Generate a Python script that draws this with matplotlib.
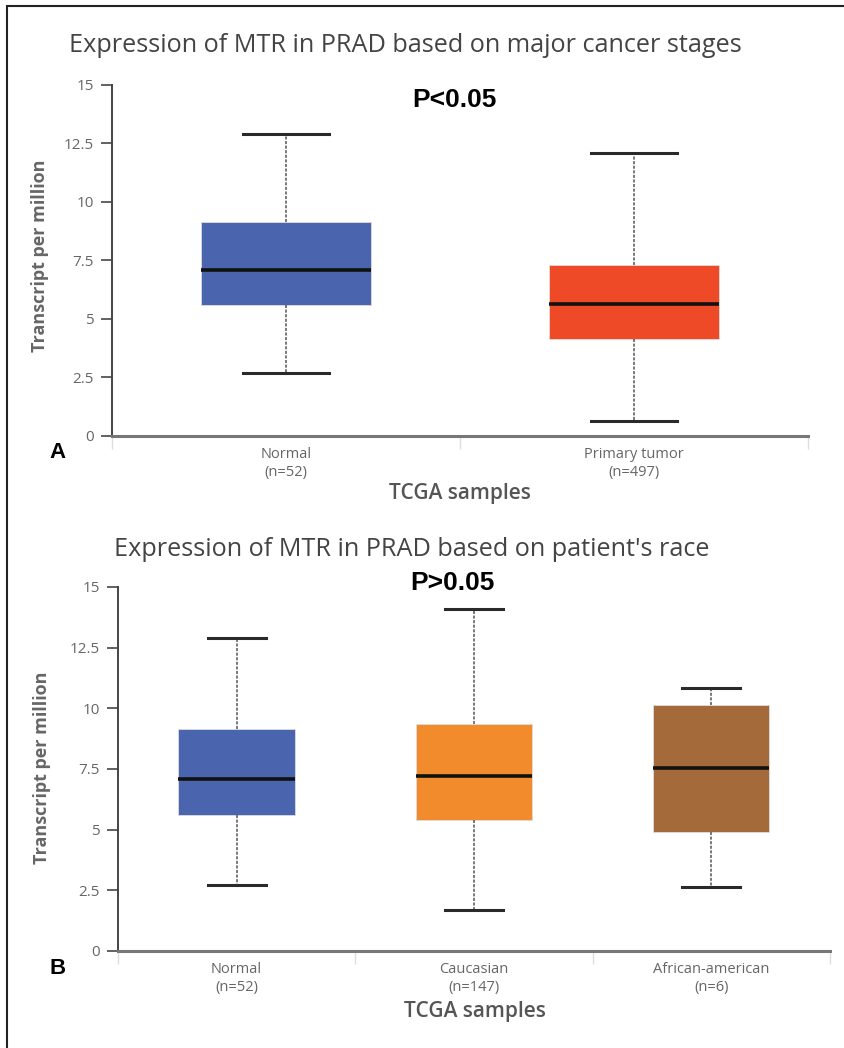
import matplotlib.pyplot as plt
from matplotlib.patches import Rectangle

plt.rcParams['font.family'] = ['Open Sans', 'DejaVu Sans']

# panel A: major cancer stages
a_labels = ["Normal\n(n=52)", "Primary tumor\n(n=497)"]
a_colors = ["#4a64ae", "#ee4a28"]
a_whislo = [2.7, 0.65]
a_q1 = [5.6, 4.15]
a_med = [7.1, 5.65]
a_q3 = [9.15, 7.3]
a_whishi = [12.9, 12.1]

# panel B: patient's race
b_labels = ["Normal\n(n=52)", "Caucasian\n(n=147)", "African-american\n(n=6)"]
b_colors = ["#4a64ae", "#f28b2c", "#a46a3a"]
b_whislo = [2.7, 1.7, 2.65]
b_q1 = [5.6, 5.4, 4.9]
b_med = [7.1, 7.2, 7.55]
b_q3 = [9.15, 9.35, 10.15]
b_whishi = [12.9, 14.1, 10.85]

yticks = [0, 2.5, 5, 7.5, 10, 12.5, 15]
ytick_labels = ["0", "2.5", "5", "7.5", "10", "12.5", "15"]

fig = plt.figure(figsize=(8.45, 10.48), dpi=100)


def draw_panel(ax, labels, colors, lo, q1, med, q3, hi):
    stats = []
    for i in range(len(labels)):
        stats.append({"whislo": lo[i], "q1": q1[i], "med": med[i],
                      "q3": q3[i], "whishi": hi[i], "fliers": []})
    bp = ax.bxp(stats, positions=range(1, len(labels) + 1), widths=0.49,
                capwidths=0.245, patch_artist=True, showfliers=False,
                boxprops=dict(linewidth=0.6, edgecolor="#dddddd"),
                whiskerprops=dict(linestyle=(0, (2, 1)), linewidth=1.1, color="#555555"),
                capprops=dict(linewidth=2.2, color="#2a2a2a"),
                medianprops=dict(linewidth=2.6, color="#111111"))
    for patch, c in zip(bp["boxes"], colors):
        patch.set_facecolor(c)
    n = len(labels)
    ax.set_xlim(0.5, n + 0.5)
    ax.set_ylim(0, 15)
    ax.set_yticks(yticks)
    ax.set_yticklabels(ytick_labels)
    ax.set_xticks(range(1, n + 1))
    ax.set_xticklabels(labels, color="#666666", fontsize=10.5, linespacing=1.3)
    ax.set_xticks([i + 0.5 for i in range(n + 1)], minor=True)
    ax.tick_params(axis="x", which="major", length=0, pad=8)
    ax.tick_params(axis="x", which="minor", length=9, color="#dddddd", width=1)
    ax.tick_params(axis="y", length=8, width=1.3, color="#555555",
                   labelcolor="#666666", labelsize=11, pad=5)
    for s in ["top", "right"]:
        ax.spines[s].set_visible(False)
    ax.spines["left"].set_color("#444444")
    ax.spines["left"].set_linewidth(1.4)
    ax.spines["bottom"].set_color("#777777")
    ax.spines["bottom"].set_linewidth(2.2)


ax1 = fig.add_axes([0.1325, 0.584, 0.8237, 0.335])
draw_panel(ax1, a_labels, a_colors, a_whislo, a_q1, a_med, a_q3, a_whishi)
ax2 = fig.add_axes([0.1396, 0.0926, 0.8426, 0.3473])
draw_panel(ax2, b_labels, b_colors, b_whislo, b_q1, b_med, b_q3, b_whishi)

# titles and texts
fig.text(405 / 845, 1 - 45 / 1048, "Expression of MTR in PRAD based on major cancer stages",
         ha="center", va="center", fontsize=18.2, color="#444444")
fig.text(412 / 845, 1 - 550 / 1048, "Expression of MTR in PRAD based on patient's race",
         ha="center", va="center", fontsize=18.2, color="#444444")
fig.text(454 / 845, 1 - 100 / 1048, "P<0.05", ha="center", va="center",
         fontsize=19, fontweight="bold", family="Liberation Sans")
fig.text(452 / 845, 1 - 583 / 1048, "P>0.05", ha="center", va="center",
         fontsize=19, fontweight="bold", family="Liberation Sans")
fig.text(40 / 845, 1 - 256 / 1048, "Transcript per million", rotation=90,
         ha="center", va="center", fontsize=13, fontweight="bold", color="#666666")
fig.text(42 / 845, 1 - 768 / 1048, "Transcript per million", rotation=90,
         ha="center", va="center", fontsize=13, fontweight="bold", color="#666666")
fig.text(460 / 845, 1 - 494 / 1048, "TCGA samples", ha="center", va="center",
         fontsize=15, fontweight="semibold", color="#555555")
fig.text(475 / 845, 1 - 1011 / 1048, "TCGA samples", ha="center", va="center",
         fontsize=15, fontweight="semibold", color="#555555")
fig.text(57 / 845, 1 - 452 / 1048, "A", ha="center", va="center",
         fontsize=16, fontweight="bold", family="Liberation Sans")
fig.text(58 / 845, 1 - 968 / 1048, "B", ha="center", va="center",
         fontsize=16, fontweight="bold", family="Liberation Sans")

# outer frame
fig.patches.append(Rectangle((7 / 845, -0.1), 1.2, 1.1 - 6 / 1048, fill=False,
                             edgecolor="#222222", linewidth=1.5,
                             transform=fig.transFigure, figure=fig))

fig.savefig("out.png", dpi=100)
